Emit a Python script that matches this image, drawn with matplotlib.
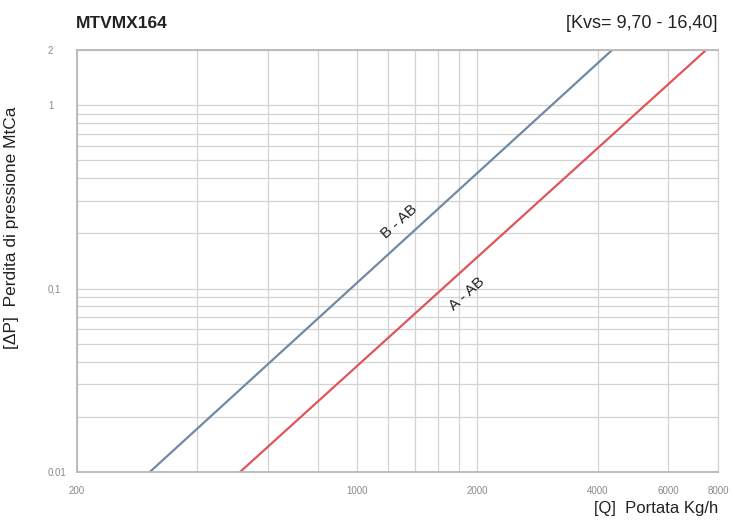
import numpy as np
import matplotlib
matplotlib.use("Agg")
import matplotlib.pyplot as plt
from matplotlib.ticker import NullFormatter

plt.rcParams['font.family'] = ['Liberation Sans Narrow', 'DejaVu Sans Condensed',
                               'Liberation Sans', 'DejaVu Sans']

# data (end points of the two straight log-log lines)
dp = [0.01, 2.0]                # pressure drop, mCa
q_b_ab = [304, 4350]            # B - AB, Kg/h
q_a_ab = [511, 7470]            # A - AB, Kg/h

x_major = [200, 1000, 2000, 4000, 6000, 8000]
x_major_labels = ['200', '1000', '2000', '4000', '6000', '8000']
x_minor = [400, 600, 800, 1200, 1400, 1600, 1800]
y_major = [0.01, 0.1, 1, 2]
y_major_labels = ['0.01', '0,1', '1', '2']
y_minor = [0.02, 0.03, 0.04, 0.05, 0.06, 0.07, 0.08, 0.09,
           0.2, 0.3, 0.4, 0.5, 0.6, 0.7, 0.8, 0.9]

fig = plt.figure(figsize=(7.33, 5.22), dpi=100)
ax = fig.add_axes([77/733, 1-472/522, (718-77)/733, (472-50)/522])

ax.set_xscale('log')
ax.set_yscale('log')
ax.set_xlim(200, 8000)
ax.set_ylim(0.01, 2)

ax.plot(q_b_ab, dp, color='#6f8aa2', lw=1.6, solid_capstyle='butt')
ax.plot(q_a_ab, dp, color='#e0555a', lw=1.6, solid_capstyle='butt')

# grid
ax.set_xticks(x_major)
ax.set_xticklabels(x_major_labels)
ax.set_xticks(x_minor, minor=True)
ax.set_yticks(y_major)
ax.set_yticklabels(y_major_labels)
ax.set_yticks(y_minor, minor=True)
ax.xaxis.set_minor_formatter(NullFormatter())
ax.yaxis.set_minor_formatter(NullFormatter())
ax.grid(True, which='both', color='#d2d2d2', lw=0.9)
ax.set_axisbelow(True)

ax.tick_params(which='both', length=0)
ax.tick_params(axis='x', labelsize=7, labelcolor='#8a8a8a', pad=10)
ax.tick_params(axis='y', labelsize=7, labelcolor='#8a8a8a', pad=21)
for lab in ax.get_yticklabels():
    lab.set_horizontalalignment('left')

for s in ['left', 'bottom', 'top']:
    ax.spines[s].set_color('#b8b8b8')
    ax.spines[s].set_linewidth(1.3)
ax.spines['right'].set_color('#d2d2d2')
ax.spines['right'].set_linewidth(0.9)

# line labels
ax.text(1276, 0.232, 'B - AB', rotation=42, ha='center', va='center',
        rotation_mode='anchor', fontsize=11, color='#222222')
ax.text(1888, 0.093, 'A - AB', rotation=42, ha='center', va='center',
        rotation_mode='anchor', fontsize=11, color='#222222')

# titles and axis labels
fig.text(76/733, 1-23/522, 'MTVMX164', fontsize=12.5, fontweight='bold',
         ha='left', va='center', color='#222222')
fig.text(718/733, 1-23/522, '[Kvs= 9,70 - 16,40]', fontsize=13,
         ha='right', va='center', color='#222222')
fig.text(12/733, 1-228/522, '[ΔP]  Perdita di pressione MtCa', fontsize=12.5,
         rotation=90, ha='center', va='center', color='#222222')
fig.text(718/733, 1-508/522, '[Q]  Portata Kg/h', fontsize=12,
         ha='right', va='center', color='#222222')

fig.savefig('out.png', dpi=100)
